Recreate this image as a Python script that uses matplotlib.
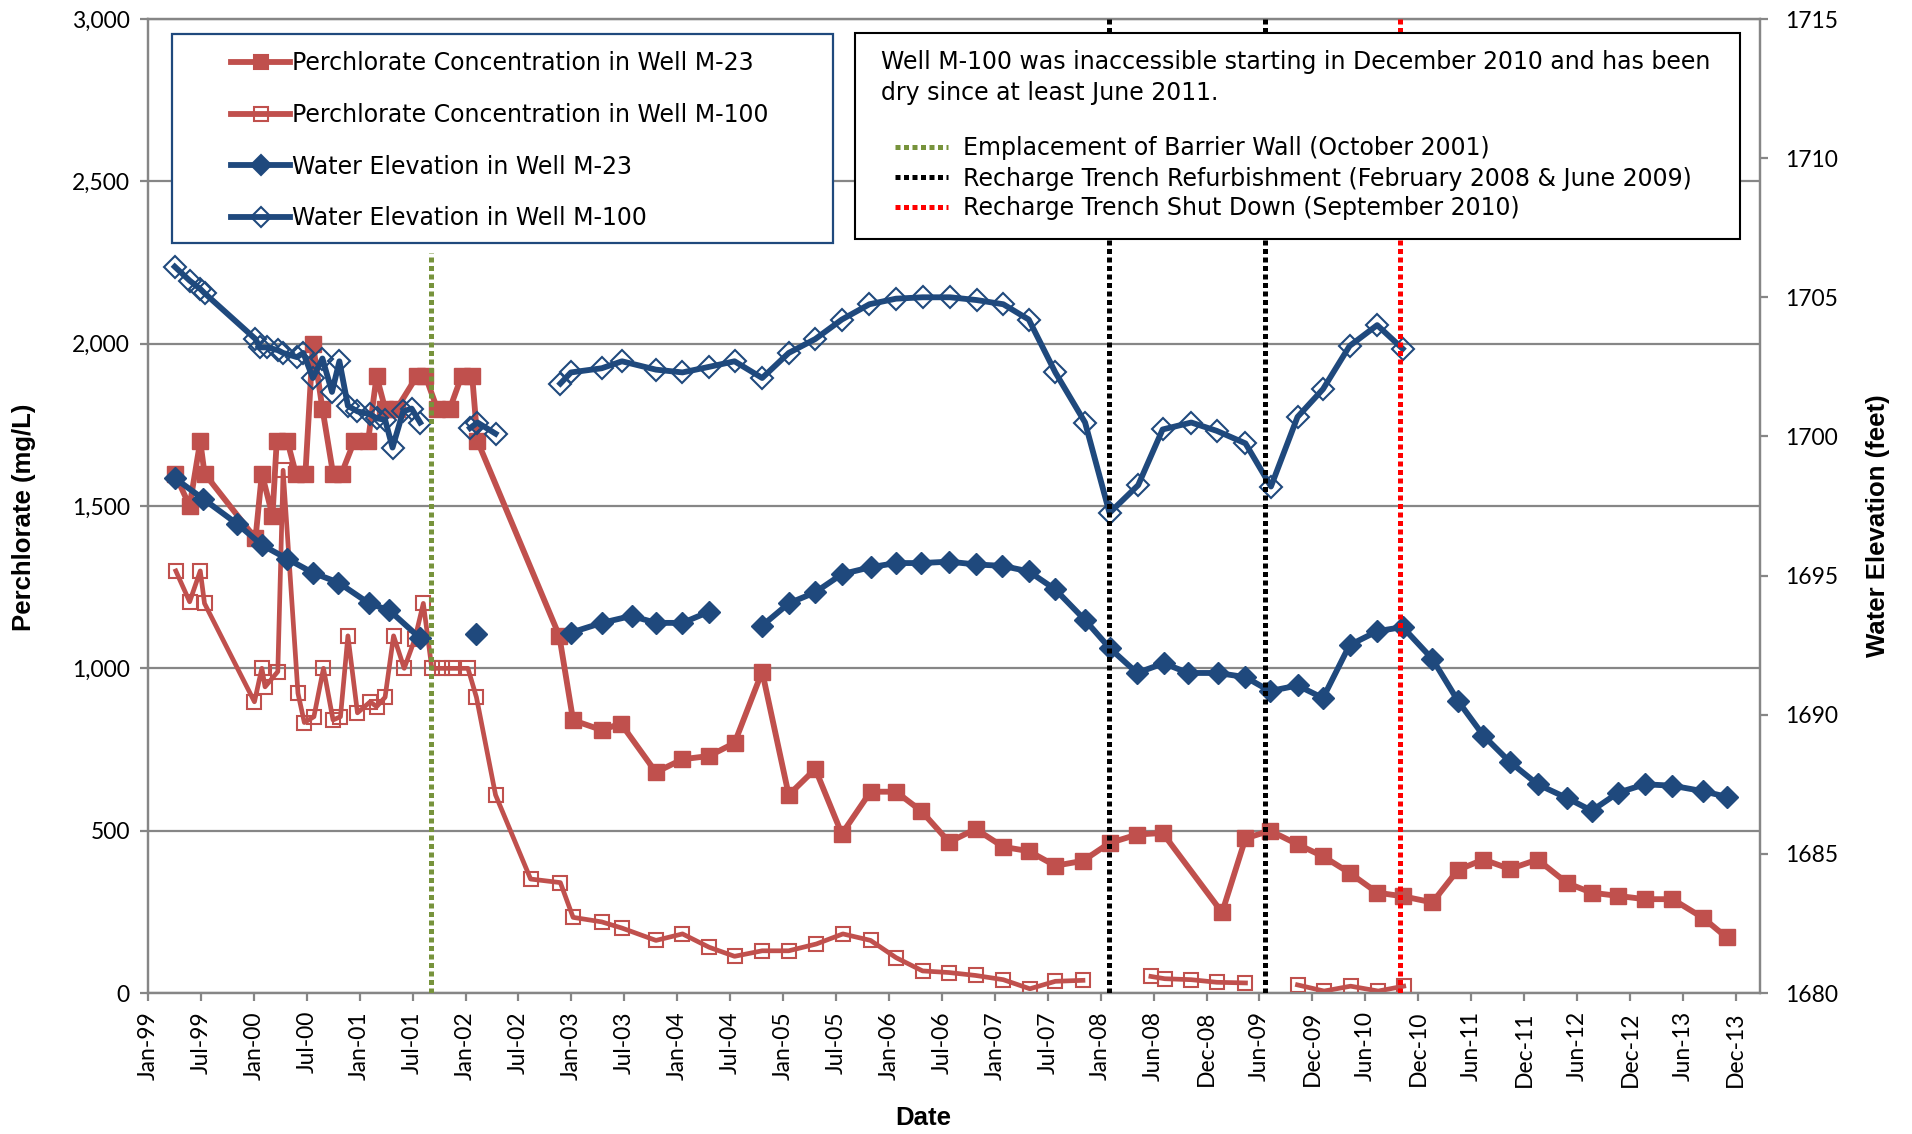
import numpy as np
import matplotlib
matplotlib.use("Agg")
import matplotlib.pyplot as plt
from matplotlib.lines import Line2D
from matplotlib.patches import Rectangle
from matplotlib.ticker import FuncFormatter

# dates are decimal years
m23_perc_yr = [1999.29, 1999.43, 1999.53, 1999.57, 2000.05, 2000.11, 2000.21, 2000.25, 2000.35, 2000.43,
               2000.52, 2000.59, 2000.68, 2000.78, 2000.86, 2000.98, 2001.11, 2001.19, 2001.27, 2001.38,
               2001.57, 2001.65, 2001.76, 2001.88, 2001.99, 2002.09, 2002.14, 2002.91, 2003.04, 2003.31,
               2003.49, 2003.82, 2004.07, 2004.32, 2004.56, 2004.82, 2005.07, 2005.32, 2005.57, 2005.84,
               2006.08, 2006.32, 2006.58, 2006.83, 2007.09, 2007.33, 2007.58, 2007.84, 2008.09, 2008.35,
               2008.59, 2009.15, 2009.37, 2009.60, 2009.86, 2010.10, 2010.35, 2010.61, 2010.85, 2011.13,
               2011.37, 2011.61, 2011.86, 2012.12, 2012.40, 2012.63, 2012.88, 2013.13, 2013.39, 2013.68,
               2013.90]
m23_perc = [1600, 1500, 1700, 1600, 1400, 1600, 1470, 1700, 1700, 1600,
            1600, 2000, 1800, 1600, 1600, 1700, 1700, 1900, 1800, 1800,
            1900, 1900, 1800, 1800, 1900, 1900, 1700, 1100, 840, 810,
            830, 680, 720, 730, 770, 990, 610, 690, 490, 620,
            620, 560, 465, 505, 450, 437, 392, 407, 462, 488,
            493, 248, 476, 500, 458, 421, 370, 309, 298, 279,
            379, 411, 382, 411, 338, 309, 299, 289, 289, 231,
            171]

m100_perc_yr = [1999.30, 1999.43, 1999.53, 1999.57, 2000.04, 2000.11, 2000.14, 2000.26, 2000.31, 2000.45,
                2000.51, 2000.60, 2000.69, 2000.78, 2000.85, 2000.92, 2001.01, 2001.13, 2001.19, 2001.27,
                2001.35, 2001.45, 2001.55, 2001.63, 2001.71, 2001.81, 2001.90, 2002.05, 2002.13, 2002.31,
                2002.64, 2002.92, 2003.04, 2003.31, 2003.50, 2003.82, 2004.07, 2004.32, 2004.56, 2004.82,
                2005.07, 2005.33, 2005.58, 2005.84, 2006.08, 2006.33, 2006.58, 2006.83, 2007.09, 2007.34,
                2007.58, 2007.84, 2008.16, 2008.48, 2008.61, 2008.86, 2009.10, 2009.37, 2009.60, 2009.86,
                2010.11, 2010.36, 2010.62, 2010.86]
m100_perc = [1300, 1205, 1300, 1200, 897, 1000, 943, 990, 1610, 923,
             833, 851, 1000, 841, 851, 1100, 863, 897, 882, 911,
             1100, 1000, 1090, 1200, 1000, 1000, 1000, 1000, 911, 610,
             351, 340, 233, 219, 200, 162, 182, 141, 113, 130,
             130, 151, 182, 162, 109, 68, 63, 54, 41, 13,
             36, 39, None, 51, 44, 41, 33, 31, None, 25,
             6, 21, 6, 21]

m23_elev_yr = [1999.29, 1999.56, 1999.88, 2000.11, 2000.35, 2000.59, 2000.83, 2001.12, 2001.31, 2001.60,
               2001.85, 2002.13, 2002.60, 2003.02, 2003.31, 2003.59, 2003.82, 2004.07, 2004.32, 2004.57,
               2004.82, 2005.07, 2005.32, 2005.57, 2005.84, 2006.08, 2006.32, 2006.58, 2006.83, 2007.08,
               2007.33, 2007.58, 2007.86, 2008.09, 2008.35, 2008.60, 2008.83, 2009.11, 2009.37, 2009.60,
               2009.86, 2010.10, 2010.35, 2010.61, 2010.85, 2011.13, 2011.37, 2011.61, 2011.86, 2012.12,
               2012.40, 2012.63, 2012.88, 2013.13, 2013.39, 2013.68, 2013.90]
m23_elev = [1698.5, 1697.75, 1696.85, 1696.1, 1695.6, 1695.1, 1694.75, 1694.0, 1693.75, 1692.75,
            None, 1692.9, None, 1692.95, 1693.3, 1693.55, 1693.3, 1693.3, 1693.7, None,
            1693.2, 1694.0, 1694.4, 1695.05, 1695.3, 1695.45, 1695.45, 1695.5, 1695.4, 1695.35,
            1695.15, 1694.5, 1693.4, 1692.4, 1691.5, 1691.85, 1691.5, 1691.5, 1691.35, 1690.85,
            1691.05, 1690.6, 1692.5, 1693.0, 1693.15, 1692.0, 1690.5, 1689.25, 1688.3, 1687.5,
            1687.0, 1686.55, 1687.2, 1687.5, 1687.45, 1687.25, 1687.05]

m100_elev_yr = [1999.29, 1999.43, 1999.53, 1999.57, 2000.05, 2000.09, 2000.16, 2000.26, 2000.31, 2000.44,
                2000.50, 2000.59, 2000.68, 2000.77, 2000.84, 2000.92, 2001.01, 2001.13, 2001.19, 2001.27,
                2001.34, 2001.44, 2001.52, 2001.60, 2001.85, 2002.07, 2002.14, 2002.31, 2002.60, 2002.92,
                2003.02, 2003.31, 2003.50, 2003.82, 2004.07, 2004.32, 2004.56, 2004.82, 2005.07, 2005.32,
                2005.57, 2005.83, 2006.08, 2006.33, 2006.59, 2006.84, 2007.09, 2007.33, 2007.58, 2007.86,
                2008.09, 2008.36, 2008.59, 2008.86, 2009.10, 2009.37, 2009.61, 2009.86, 2010.10, 2010.35,
                2010.61, 2010.85]
m100_elev = [1706.1, 1705.6, 1705.3, 1705.15, 1703.5, 1703.2, 1703.2, 1703.1, 1703.0, 1702.85,
             1703.0, 1702.1, 1702.8, 1701.6, 1702.7, 1701.1, 1700.9, 1700.8, 1700.65, 1700.6,
             1699.6, 1700.9, 1701.0, 1700.5, None, 1700.3, 1700.5, 1700.1, None, 1701.9,
             1702.3, 1702.45, 1702.7, 1702.4, 1702.3, 1702.5, 1702.7, 1702.1, 1703.0, 1703.5,
             1704.2, 1704.75, 1704.95, 1705.0, 1705.0, 1704.9, 1704.75, 1704.2, 1702.3, 1700.5,
             1697.25, 1698.25, 1700.25, 1700.5, 1700.2, 1699.75, 1698.2, 1700.7, 1701.7, 1703.25,
             1704.0, 1703.15]

# event lines: date and how high they reach on the perchlorate axis
event_yr = [2001.705, 2008.085, 2009.553, 2010.829]
event_top = [2280, 3000, 3000, 3000]
event_names = ['Emplacement of Barrier Wall (October 2001)',
               'Recharge Trench Refurbishment (February 2008 & June 2009)',
               'Recharge Trench Shut Down (September 2010)']

xtick_labels = ['Jan-99', 'Jul-99', 'Jan-00', 'Jul-00', 'Jan-01', 'Jul-01', 'Jan-02', 'Jul-02',
                'Jan-03', 'Jul-03', 'Jan-04', 'Jul-04', 'Jan-05', 'Jul-05', 'Jan-06', 'Jul-06',
                'Jan-07', 'Jul-07', 'Jan-08', 'Jun-08', 'Dec-08', 'Jun-09', 'Dec-09', 'Jun-10',
                'Dec-10', 'Jun-11', 'Dec-11', 'Jun-12', 'Dec-12', 'Jun-13', 'Dec-13']
tick_start = 1999.038
tick_step = 182 / 365.25

RED = '#C0504D'
BLUE = '#1F497D'
GRAY = '#868686'
GREEN = '#77933C'
W, H = 1912, 1134
DOTS = (0, (1.0, 0.7))

plt.rcParams['font.family'] = 'Lato'


def arr(v):
    return np.array([np.nan if a is None else a for a in v], dtype=float)


fig = plt.figure(figsize=(W / 100, H / 100), dpi=100)
ax = fig.add_axes([148 / W, 1 - 993 / H, 1612 / W, 974 / H])
ax2 = ax.twinx()

ax.plot(m23_perc_yr, arr(m23_perc), color=RED, lw=4.2, marker='s', ms=11,
        mfc=RED, mec=RED, zorder=3)
ax.plot(m100_perc_yr, arr(m100_perc), color=RED, lw=3.4, marker='s', ms=10,
        mfc='none', mec=RED, mew=1.5, zorder=3)
ax2.plot(m23_elev_yr, arr(m23_elev), color=BLUE, lw=4.2, marker='D', ms=11,
         mfc=BLUE, mec=BLUE, zorder=3)
ax2.plot(m100_elev_yr, arr(m100_elev), color=BLUE, lw=4.2, marker='D', ms=11,
         mfc='none', mec=BLUE, mew=1.5, zorder=3)

ev_colors = [GREEN, 'black', 'black', '#FF0000']
for x, top, c in zip(event_yr, event_top, ev_colors):
    ax2.axvline(x, ymin=0, ymax=top / 3000, color=c, lw=3.6, ls=DOTS, zorder=6)

ax.set_xlim(tick_start, tick_start + 1612 / 106.22)
ax.set_ylim(0, 3000)
ax2.set_ylim(1680, 1715)
ax.set_yticks(range(0, 3001, 500))
ax.yaxis.set_major_formatter(FuncFormatter(lambda v, p: '{:,.0f}'.format(v)))
ax2.set_yticks(range(1680, 1716, 5))
ticks = [tick_start + k * tick_step for k in range(len(xtick_labels))]
ax.set_xticks(ticks)
ax.set_xticklabels(xtick_labels, rotation=90)

ax.yaxis.grid(True, color=GRAY, lw=1.6)
ax.set_axisbelow(True)
for a in (ax, ax2):
    for s in a.spines.values():
        s.set_color(GRAY)
        s.set_linewidth(1.6)
ax.tick_params(axis='both', direction='out', length=6, width=1.6, color=GRAY,
               labelsize=16.5, pad=7)
ax2.tick_params(axis='y', direction='out', length=6, width=1.6, color=GRAY,
                labelsize=16.5, pad=12)

lab = dict(fontfamily='Liberation Sans', fontweight='bold', fontsize=18.5)
ax.set_ylabel('Perchlorate (mg/L)', **lab)
ax.yaxis.set_label_coords(-0.0695, 0.488)
ax2.set_ylabel('Water Elevation (feet)', **lab)
ax2.yaxis.set_label_coords(1.0658, 0.48)
ax.set_xlabel('Date', **lab)
ax.xaxis.set_label_coords(0.4808, -0.116)


def fx(x):
    return x / W


def fy(y):
    return 1 - y / H


txt = dict(fontfamily='DejaVu Sans', fontsize=17, zorder=8, va='baseline')

# series legend box
fig.add_artist(Rectangle((fx(172), fy(243)), (833 - 172) / W, (243 - 34) / H,
                         transform=fig.transFigure, facecolor='white',
                         edgecolor=BLUE, lw=1.6, zorder=7))
leg_rows = [
    ('Perchlorate Concentration in Well M-23', RED, 's', RED),
    ('Perchlorate Concentration in Well M-100', RED, 's', 'none'),
    ('Water Elevation in Well M-23', BLUE, 'D', BLUE),
    ('Water Elevation in Well M-100', BLUE, 'D', 'none'),
]
for i, (name, c, m, face) in enumerate(leg_rows):
    y = 62 + i * 51.5
    fig.add_artist(Line2D([fx(231), fx(290)], [fy(y), fy(y)], color=c, lw=4.2,
                          transform=fig.transFigure, zorder=8))
    fig.add_artist(Line2D([fx(260.5)], [fy(y)], marker=m, ms=10.5, mfc=face, mec=c,
                          mew=1.5, transform=fig.transFigure, zorder=9))
    fig.text(fx(292), fy(y + 8.5), name, **txt)

# note box
fig.add_artist(Rectangle((fx(855), fy(239)), (1740 - 855) / W, (239 - 33) / H,
                         transform=fig.transFigure, facecolor='white',
                         edgecolor='black', lw=1.5, zorder=7))
fig.text(fx(881), fy(69), 'Well M-100 was inaccessible starting in December 2010 and has been', **txt)
fig.text(fx(881), fy(100), 'dry since at least June 2011.', **txt)
for i, (name, c) in enumerate(zip(event_names, [GREEN, 'black', '#FF0000'])):
    y = 147 + i * 30
    fig.add_artist(Line2D([fx(895), fx(948)], [fy(y), fy(y)], color=c, lw=3.6,
                          ls=DOTS, transform=fig.transFigure, zorder=8))
    fig.text(fx(963), fy(y + 8.5), name, **txt)

fig.savefig('out.png', dpi=100)
